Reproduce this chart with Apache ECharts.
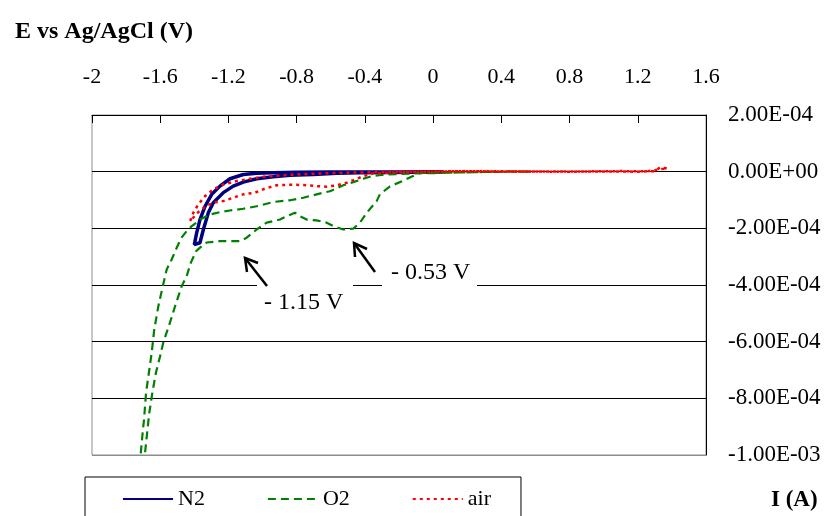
<!DOCTYPE html>
<html>
<head>
<meta charset="utf-8">
<script src="https://cdn.jsdelivr.net/npm/echarts@6/dist/echarts.min.js"></script>
<style>html,body{margin:0;padding:0;background:#fff}#c{width:827px;height:516px}</style>
</head>
<body>
<div id="c"></div>
<script>
// ---- data: [E (V), I (A)] ----
const seriesNames = ['N2', 'O2', 'air'];
const xTicks = [-2, -1.6, -1.2, -0.8, -0.4, 0, 0.4, 0.8, 1.2, 1.6];
const yTicks = [-1.0e-3, -8.0e-4, -6.0e-4, -4.0e-4, -2.0e-4, 0, 2.0e-4];

const n2Data = [
  [0.05, -0.01e-4], [-0.10, -0.02e-4], [-0.25, -0.03e-4], [-0.429, -0.035e-4], [-0.565, -0.06e-4],
  [-0.703, -0.10e-4], [-0.839, -0.13e-4], [-0.937, -0.18e-4], [-1.034, -0.25e-4], [-1.113, -0.37e-4],
  [-1.172, -0.51e-4], [-1.230, -0.74e-4], [-1.289, -1.10e-4], [-1.318, -1.45e-4], [-1.347, -2.04e-4],
  [-1.367, -2.51e-4], [-1.400, -2.57e-4], [-1.386, -2.15e-4], [-1.367, -1.69e-4], [-1.337, -1.22e-4],
  [-1.298, -0.80e-4], [-1.250, -0.51e-4], [-1.191, -0.25e-4], [-1.113, -0.10e-4], [-1.034, -0.06e-4],
  [-0.937, -0.035e-4], [-0.80, -0.02e-4], [-0.60, -0.01e-4], [-0.40, -0.01e-4], [-0.20, -0.01e-4],
  [0.0, 0], [0.05, -0.01e-4]
];

const o2Data = [
  [0.57, 0], [0.45, 0], [0.30, -0.01e-4], [0.15, -0.03e-4], [0.0, -0.04e-4], [-0.065, -0.04e-4],
  [-0.124, -0.17e-4], [-0.183, -0.34e-4], [-0.253, -0.52e-4], [-0.312, -0.80e-4], [-0.331, -1.04e-4],
  [-0.389, -1.45e-4], [-0.429, -1.80e-4], [-0.468, -2.01e-4], [-0.527, -2.04e-4], [-0.585, -1.92e-4],
  [-0.624, -1.80e-4], [-0.683, -1.72e-4], [-0.741, -1.69e-4], [-0.781, -1.57e-4], [-0.810, -1.45e-4],
  [-0.858, -1.57e-4], [-0.898, -1.69e-4], [-0.976, -1.80e-4], [-1.034, -2.04e-4], [-1.093, -2.33e-4],
  [-1.132, -2.45e-4], [-1.250, -2.45e-4], [-1.328, -2.50e-4], [-1.367, -2.68e-4], [-1.390, -2.81e-4],
  [-1.421, -3.22e-4], [-1.445, -3.69e-4], [-1.474, -4.04e-4], [-1.513, -4.75e-4], [-1.543, -5.33e-4],
  [-1.582, -6.03e-4], [-1.601, -6.52e-4], [-1.625, -7.09e-4], [-1.646, -7.80e-4], [-1.664, -8.51e-4],
  [-1.679, -9.34e-4], [-1.689, -9.92e-4], [-1.700, -10.4e-4], [-1.722, -10.4e-4], [-1.714, -9.93e-4],
  [-1.703, -9.21e-4], [-1.695, -8.75e-4], [-1.683, -7.80e-4], [-1.664, -6.99e-4], [-1.650, -6.39e-4],
  [-1.635, -5.57e-4], [-1.611, -4.75e-4], [-1.585, -4.04e-4], [-1.562, -3.45e-4], [-1.533, -3.10e-4],
  [-1.503, -2.68e-4], [-1.474, -2.32e-4], [-1.445, -2.10e-4], [-1.415, -1.92e-4], [-1.386, -1.79e-4],
  [-1.367, -1.69e-4], [-1.308, -1.51e-4], [-1.250, -1.43e-4], [-1.191, -1.37e-4], [-1.113, -1.31e-4],
  [-1.034, -1.22e-4], [-0.937, -1.07e-4], [-0.839, -1.01e-4], [-0.761, -0.92e-4], [-0.683, -0.80e-4],
  [-0.605, -0.69e-4], [-0.527, -0.48e-4], [-0.468, -0.37e-4], [-0.409, -0.25e-4], [-0.360, -0.16e-4],
  [-0.294, -0.11e-4], [-0.194, -0.08e-4], [-0.10, -0.06e-4], [0.0, -0.05e-4], [0.15, -0.03e-4],
  [0.30, -0.01e-4], [0.45, 0], [0.57, 0]
];

const airData = [
  [1.37, 0.12e-4], [1.33, 0.15e-4], [1.30, 0.02e-4], [1.2, 0], [1.0, 0.01e-4], [0.8, 0], [0.6, 0.01e-4],
  [0.4, 0], [0.2, 0.02e-4], [0.0, 0.01e-4], [-0.2, -0.02e-4], [-0.282, -0.04e-4], [-0.351, -0.06e-4],
  [-0.409, -0.16e-4], [-0.468, -0.30e-4], [-0.507, -0.39e-4], [-0.565, -0.48e-4], [-0.624, -0.53e-4],
  [-0.683, -0.51e-4], [-0.761, -0.47e-4], [-0.839, -0.46e-4], [-0.917, -0.48e-4], [-0.986, -0.60e-4],
  [-1.044, -0.74e-4], [-1.113, -0.80e-4], [-1.172, -0.92e-4], [-1.230, -1.04e-4], [-1.279, -1.08e-4],
  [-1.326, -1.19e-4], [-1.379, -1.44e-4], [-1.425, -1.75e-4], [-1.406, -1.45e-4], [-1.377, -1.16e-4],
  [-1.337, -0.86e-4], [-1.289, -0.63e-4], [-1.230, -0.45e-4], [-1.152, -0.33e-4], [-1.074, -0.25e-4],
  [-0.996, -0.18e-4], [-0.898, -0.13e-4], [-0.800, -0.10e-4], [-0.644, -0.06e-4], [-0.507, -0.035e-4],
  [-0.3, -0.02e-4], [-0.1, 0], [0.1, 0.01e-4], [0.3, 0.02e-4], [0.5, 0.01e-4], [0.7, 0], [0.9, 0.01e-4],
  [1.1, 0.02e-4], [1.25, 0.01e-4], [1.37, 0.12e-4]
];

const annotations = ['- 1.15 V', '- 0.53 V'];
const xTitle = 'E vs Ag/AgCl (V)';
const yTitle = 'I (A)';

// ---- chart ----
const FONT = '"Liberation Serif", "Times New Roman", serif';
function expFmt(v) {
  if (Math.abs(v) < 1e-12) v = 0;
  const s = v.toExponential(2);
  const parts = s.split('e');
  let ex = parseInt(parts[1], 10);
  const sign = ex < 0 ? '-' : '+';
  ex = Math.abs(ex);
  return parts[0] + 'E' + sign + (ex < 10 ? '0' + ex : '' + ex);
}

const chart = echarts.init(document.getElementById('c'), null, { renderer: 'canvas' });
const option = {
  animation: false,
  backgroundColor: '#fff',
  title: [
    { text: xTitle, left: 10, top: 15, textStyle: { fontFamily: FONT, fontSize: 24, fontWeight: 'bold', color: '#000' } },
    { text: yTitle, left: 766, top: 484, textStyle: { fontFamily: FONT, fontSize: 23, fontWeight: 'bold', color: '#000' } }
  ],
  legend: {
    left: 85, top: 477,
    itemWidth: 50, itemHeight: 14, itemGap: 62,
    padding: [11, 30, 20, 37],
    borderColor: '#000', borderWidth: 1,
    itemStyle: { opacity: 0 },
    textStyle: { fontFamily: FONT, fontSize: 22, color: '#000' },
    data: seriesNames
  },
  grid: {
    left: 92, right: 121, top: 115, bottom: 61,
    show: true, borderColor: '#8c8c8c', borderWidth: 1
  },
  xAxis: {
    type: 'value', position: 'top',
    min: xTicks[0], max: xTicks[xTicks.length - 1], interval: 0.4,
    axisLine: { show: true, onZero: false, lineStyle: { color: '#000', width: 1 } },
    axisTick: { show: true, inside: true, length: 8, lineStyle: { color: '#000' } },
    splitLine: { show: false },
    axisLabel: { fontFamily: FONT, fontSize: 22, color: '#000', margin: 27 }
  },
  yAxis: {
    type: 'value', position: 'right',
    min: yTicks[0], max: yTicks[yTicks.length - 1], interval: 2e-4,
    axisLine: { show: true, onZero: false, lineStyle: { color: '#000', width: 1 } },
    axisTick: { show: false },
    splitLine: { show: true, lineStyle: { color: ['#8c8c8c', '#000', '#000', '#000', '#000', '#000', '#000'], width: 1 } },
    axisLabel: { fontFamily: FONT, fontSize: 23, color: '#000', margin: 22, formatter: expFmt }
  },
  series: [
    { name: seriesNames[0], type: 'line', data: n2Data, symbol: 'none', smooth: false,
      lineStyle: { color: '#000080', width: 3.5, type: 'solid' }, itemStyle: { color: '#000080' } },
    { name: seriesNames[1], type: 'line', data: o2Data, symbol: 'none',
      lineStyle: { color: '#008000', width: 2.2, type: [8, 5] }, itemStyle: { color: '#008000' } },
    { name: seriesNames[2], type: 'line', data: airData, symbol: 'none',
      lineStyle: { color: '#ff0000', width: 2.5, type: [3, 4] }, itemStyle: { color: '#ff0000' } }
  ],
  graphic: [
    { type: 'rect', z: 100, shape: { x: 257, y: 283, width: 96, height: 36 }, style: { fill: '#fff' } },
    { type: 'rect', z: 100, shape: { x: 382, y: 257, width: 95, height: 32 }, style: { fill: '#fff' } },
    { type: 'text', z: 101, x: 264, y: 303, style: { text: annotations[0], font: '24px ' + FONT, fill: '#000', verticalAlign: 'middle' } },
    { type: 'text', z: 101, x: 391, y: 273, style: { text: annotations[1], font: '24px ' + FONT, fill: '#000', verticalAlign: 'middle' } },
    { type: 'polyline', z: 102, shape: { points: [[267, 286], [245, 258]] }, style: { stroke: '#000', lineWidth: 2.5, fill: null } },
    { type: 'polyline', z: 102, shape: { points: [[247, 272], [245, 258], [258, 263]] }, style: { stroke: '#000', lineWidth: 2.5, fill: null } },
    { type: 'polyline', z: 102, shape: { points: [[375, 272], [354, 243]] }, style: { stroke: '#000', lineWidth: 2.5, fill: null } },
    { type: 'polyline', z: 102, shape: { points: [[355, 257], [354, 243], [367, 249]] }, style: { stroke: '#000', lineWidth: 2.5, fill: null } }
  ]
};
chart.setOption(option);
</script>
</body>
</html>
